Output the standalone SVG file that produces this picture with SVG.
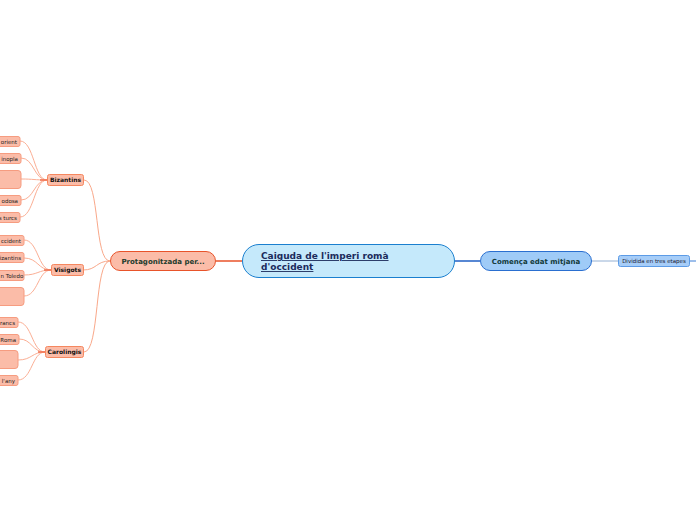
<svg xmlns="http://www.w3.org/2000/svg" width="696" height="520" viewBox="0 0 696 520">
<style>
text{font-family:"DejaVu Sans","Liberation Sans",sans-serif}
.leaf rect{fill:#fbbca8;stroke:#f69c80;stroke-width:1}
.leaf text{font-size:5.5px;fill:#222;text-anchor:end}
.mid rect{fill:#fbbca8;stroke:#f5875f;stroke-width:1}
.mid text{font-size:6px;font-weight:bold;fill:#111;text-anchor:middle}
.lc{fill:none;stroke:#fbae94;stroke-width:1}
.mc{fill:none;stroke:#f9a88a;stroke-width:1}
</style>
<rect width="696" height="520" fill="#fff"/>
<g id="connectors">
<path class="mc" d="M84,180 C100,180 94,261 110,261"/>
<path class="mc" d="M83,270 C97,270 96,261 110,261"/>
<path class="mc" d="M84,352 C100,352 94,261 110,261"/>
<path d="M216,261 H242" stroke="#e8532a" stroke-width="1.5" fill="none"/>
<path d="M455,261 H480" stroke="#1f5fc4" stroke-width="1.5" fill="none"/>
<path d="M592,261 H618" stroke="#7a9cc8" stroke-width="0.8" fill="none"/>
<path d="M690,261 H696" stroke="#3d7fd6" stroke-width="1" fill="none"/>
<path class="lc" d="M47,180 C34,180 34,141 20,141"/>
<path class="lc" d="M47,180 C34,180 34,158 21,158"/>
<path class="lc" d="M47,180 C34,180 34,179 21,179"/>
<path class="lc" d="M47,180 C34,180 34,200 21,200"/>
<path class="lc" d="M47,180 C34,180 34,217 20,217"/>
<path d="M40,180 H47" stroke="#f07050" stroke-width="1.5"/>
<path class="lc" d="M51,270 C38,270 38,240 24,240"/>
<path class="lc" d="M51,270 C38,270 38,258 24,258"/>
<path class="lc" d="M51,270 C38,270 38,275 24,275"/>
<path class="lc" d="M51,270 C38,270 38,296 24,296"/>
<path d="M44,270 H51" stroke="#f07050" stroke-width="1.5"/>
<path class="lc" d="M45,352 C32,352 32,322 18,322"/>
<path class="lc" d="M45,352 C32,352 32,339 19,339"/>
<path class="lc" d="M45,352 C32,352 32,360 18,360"/>
<path class="lc" d="M45,352 C32,352 32,380 18,380"/>
<path d="M38,352 H45" stroke="#f07050" stroke-width="1.5"/>
</g>
<g id="central">
<rect x="242.5" y="244.5" width="212" height="33" rx="16.5" fill="#c5e9fb" stroke="#1a7fcf" stroke-width="1"/>
<text x="261" y="259" font-size="9" font-weight="bold" fill="#1b2b5b" text-decoration="underline">Caiguda de l'imperi romà </text>
<text x="261" y="270" font-size="9" font-weight="bold" fill="#1b2b5b" text-decoration="underline">d'occident</text>
</g>
<g id="protagonitzada">
<rect x="110.5" y="251.5" width="105" height="19" rx="9.5" fill="#fbbca8" stroke="#e8532a" stroke-width="1"/>
<text x="163" y="264" font-size="7" font-weight="bold" fill="#1c3b2c" text-anchor="middle">Protagonitzada per...</text>
</g>
<g id="comenca">
<rect x="480.5" y="251.5" width="111" height="19" rx="9.5" fill="#9fcbf7" stroke="#2a6fd0" stroke-width="1"/>
<text x="536" y="264" font-size="7" font-weight="bold" fill="#123a3a" text-anchor="middle">Comença edat mitjana</text>
</g>
<g id="dividida">
<rect x="618.5" y="255.5" width="71" height="11" rx="2" fill="#a6cdf8" stroke="#5c9be6" stroke-width="1"/>
<text x="654" y="263" font-size="5.5" fill="#1a2030" text-anchor="middle">Dividida en tres etapes</text>
</g>
<g id="bizantins" class="mid">
<rect x="47.5" y="174.5" width="36" height="11" rx="2"/>
<text x="65.5" y="182.3">Bizantins</text>
</g>
<g id="visigots" class="mid">
<rect x="51.5" y="264.5" width="32" height="11" rx="2"/>
<text x="67.5" y="272.3">Visigots</text>
</g>
<g id="carolingis" class="mid">
<rect x="45.5" y="346.5" width="38" height="11" rx="2"/>
<text x="64.5" y="354.3">Carolingis</text>
</g>
<g id="b1" class="leaf"><rect x="-40" y="136.5" width="60" height="10" rx="2"/><text x="17" y="143.5">orient</text></g>
<g id="b2" class="leaf"><rect x="-40" y="153.5" width="61" height="10" rx="2"/><text x="18" y="160.5">inopla</text></g>
<g id="b3" class="leaf"><rect x="-40" y="170.5" width="61" height="18" rx="3"/></g>
<g id="b4" class="leaf"><rect x="-40" y="195.5" width="61" height="10" rx="2"/><text x="18" y="202.5">odosa</text></g>
<g id="b5" class="leaf"><rect x="-40" y="212.5" width="60" height="10" rx="2"/><text x="17" y="219.5">s turcs</text></g>
<g id="v1" class="leaf"><rect x="-40" y="235.5" width="64" height="10" rx="2"/><text x="21" y="242.5">ccident</text></g>
<g id="v2" class="leaf"><rect x="-40" y="252.5" width="64" height="10" rx="2"/><text x="21" y="259.5">izantins</text></g>
<g id="v3" class="leaf"><rect x="-40" y="270.5" width="64" height="10" rx="2"/><text x="0.5" y="277.5" style="text-anchor:start">n Toledo</text></g>
<g id="v4" class="leaf"><rect x="-40" y="287.5" width="64" height="18" rx="3"/></g>
<g id="c1" class="leaf"><rect x="-40" y="317.5" width="58" height="10" rx="2"/><text x="15" y="324.5">rancs</text></g>
<g id="c2" class="leaf"><rect x="-40" y="334.5" width="59" height="10" rx="2"/><text x="16" y="341.5">Roma</text></g>
<g id="c3" class="leaf"><rect x="-40" y="350.5" width="58" height="18" rx="3"/></g>
<g id="c4" class="leaf"><rect x="-40" y="375.5" width="58" height="10" rx="2"/><text x="15" y="382.5">l'any</text></g>
</svg>
